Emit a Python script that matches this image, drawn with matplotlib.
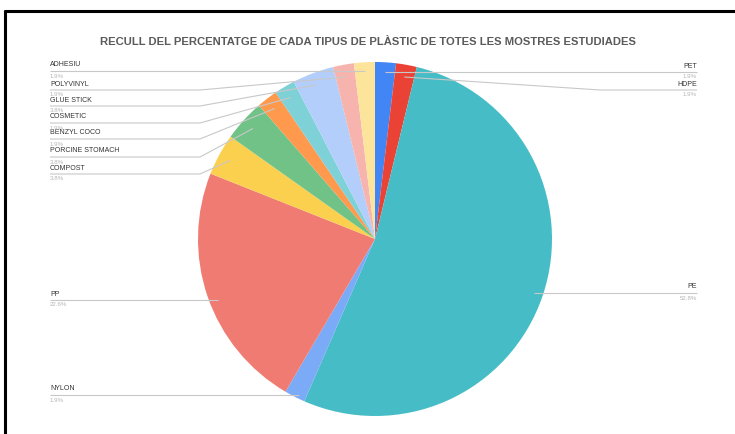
import numpy as np
import matplotlib
matplotlib.use("Agg")
import matplotlib.pyplot as plt

plt.rcParams["font.family"] = ["Liberation Sans", "DejaVu Sans"]

# clockwise from 12 o'clock
labels = ["PET", "HDPE", "PE", "NYLON", "PP", "COMPOST", "PORCINE STOMACH",
          "BENZYL COCO", "COSMETIC", "GLUE STICK", "POLYVINYL", "ADHESIU"]
values = [1.9, 1.9, 52.8, 1.9, 22.6, 3.8, 3.8, 1.9, 1.9, 3.8, 1.9, 1.9]
colors = ["#4285F4", "#EA4335", "#46BDC6", "#7BAAF7", "#F07B72", "#FCD04F",
          "#71C287", "#FF994D", "#7ED1D7", "#B3CEFB", "#F7B4AE", "#FDE49B"]
title = "RECULL DEL PERCENTATGE DE CADA TIPUS DE PLÀSTIC DE TOTES LES MOSTRES ESTUDIADES"

W, H = 735, 434
fig = plt.figure(figsize=(W / 100, H / 100), dpi=100)
ax = fig.add_axes([0, 0, 1, 1])

cx, cy, R = 375, H - 239, 177
wedges, _ = ax.pie(values, colors=colors, startangle=90, counterclock=False,
                   center=(cx, cy), radius=R, frame=True,
                   wedgeprops=dict(linewidth=0))
ax.set_xlim(0, W)
ax.set_ylim(0, H)
ax.set_aspect("equal")
ax.axis("off")

# label layout: (side, y of name in pixels from top, elbow x or "h" for flat line)
layout = {
    "PET": ("R", 66, None),
    "HDPE": ("R", 84, 600),
    "PE": ("R", 287, "h"),
    "NYLON": ("L", 389, "h"),
    "PP": ("L", 294, "h"),
    "COMPOST": ("L", 168, 200),
    "PORCINE STOMACH": ("L", 151, 200),
    "BENZYL COCO": ("L", 133, 200),
    "COSMETIC": ("L", 117, 200),
    "GLUE STICK": ("L", 100, 200),
    "POLYVINYL": ("L", 84, 200),
    "ADHESIU": ("L", 65, None),
}

line_col = "#c8c8c8"
for w, name, v in zip(wedges, labels, values):
    side, py, ex = layout[name]
    mid = np.deg2rad((w.theta1 + w.theta2) / 2)
    ly = H - (py + 6)
    if side == "L":
        x0, ha = 50, "left"
    else:
        x0, ha = 697, "right"
    ax.text(x0, H - py, name, fontsize=5.0, color="#333333",
            ha=ha, va="center")
    ax.text(x0, H - (py + 11), f"{v:.1f}%", fontsize=4.4, color="#b5b5b5",
            ha=ha, va="center")
    if ex == "h":
        rr = 0.95 * R
        dx = np.sqrt(max(rr ** 2 - (ly - cy) ** 2, 0))
        xe = cx - dx if side == "L" else cx + dx
        if name == "NYLON":
            xe = cx + rr * np.cos(mid)
        xs, ys = [x0, xe], [ly, ly]
    else:
        rr = 0.93 * R
        ax_, ay_ = cx + rr * np.cos(mid), cy + rr * np.sin(mid)
        if ex is None:
            xs, ys = [x0, ax_], [ly, ly if abs(ly - ay_) < 4 else ay_]
        else:
            xs, ys = [x0, ex, ax_], [ly, ly, ay_]
    ax.plot(xs, ys, color=line_col, lw=0.8, zorder=3,
            solid_capstyle="butt")

ax.text(W / 2 + 1, H - 42, title, fontsize=8.1, fontweight="bold",
        color="#5a5a5a", ha="center", va="center")

# outer frame of the screenshot
ax.plot([4, W], [H - 11, H - 11], color="black", lw=2.2, solid_capstyle="butt")
ax.plot([5.5, 5.5], [0, H - 10], color="black", lw=2.2, solid_capstyle="butt")

fig.savefig("out.png", dpi=100)
plt.close(fig)
